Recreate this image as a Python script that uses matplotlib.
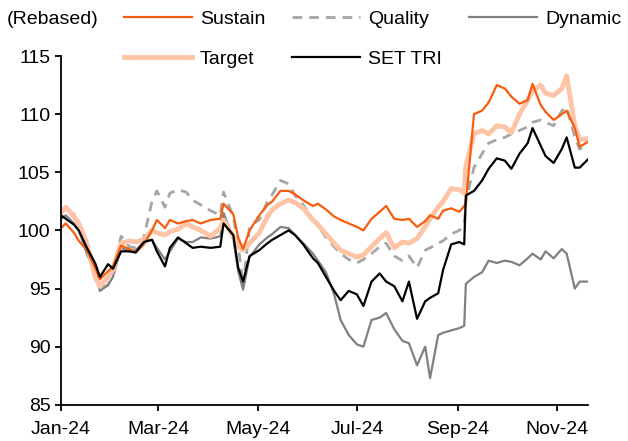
import matplotlib
matplotlib.use("Agg")
import matplotlib.pyplot as plt
import matplotlib.dates as mdates
import pandas as pd

plt.rcParams['font.family'] = ['Liberation Sans', 'DejaVu Sans']
plt.rcParams['font.size'] = 14

# dates of the sampled points
dates = pd.to_datetime([
    '2024-01-01', '2024-01-04', '2024-01-09', '2024-01-12', '2024-01-17', '2024-01-22',
    '2024-01-25', '2024-01-30', '2024-02-02', '2024-02-07', '2024-02-12', '2024-02-16',
    '2024-02-21', '2024-02-26', '2024-02-29', '2024-03-05', '2024-03-08', '2024-03-13',
    '2024-03-18', '2024-03-22', '2024-03-27', '2024-04-02', '2024-04-08', '2024-04-10',
    '2024-04-16', '2024-04-19', '2024-04-22', '2024-04-26', '2024-05-02', '2024-05-07',
    '2024-05-10', '2024-05-15', '2024-05-20', '2024-05-24', '2024-05-29', '2024-06-04',
    '2024-06-07', '2024-06-12', '2024-06-17', '2024-06-21', '2024-06-26', '2024-07-01',
    '2024-07-05', '2024-07-10', '2024-07-15', '2024-07-19', '2024-07-24', '2024-07-29',
    '2024-08-02', '2024-08-07', '2024-08-12', '2024-08-15', '2024-08-20', '2024-08-23',
    '2024-08-28', '2024-09-02', '2024-09-05', '2024-09-06', '2024-09-11', '2024-09-16',
    '2024-09-20', '2024-09-25', '2024-09-30', '2024-10-04', '2024-10-09', '2024-10-14',
    '2024-10-17', '2024-10-22', '2024-10-25', '2024-10-30', '2024-11-04', '2024-11-07',
    '2024-11-12', '2024-11-15', '2024-11-20',
])

sustain = [
    100.2, 100.6, 99.8, 99.1, 98.3, 96.8, 95.8, 96.5, 96.9, 98.7, 98.4, 98.1,
    98.8, 100.0, 100.9, 100.2, 100.9, 100.6, 100.8, 100.9, 100.6, 100.9, 101.0, 102.3,
    101.4, 99.4, 98.4, 100.0, 101.3, 102.2, 102.5, 103.4, 103.4, 103.1, 102.6, 102.1,
    102.3, 101.8, 101.2, 100.9, 100.6, 100.3, 100.0, 101.0, 101.6, 102.1, 101.0, 100.9,
    101.0, 100.3, 100.8, 101.3, 101.0, 101.7, 101.9, 101.6, 102.1, 102.3, 110.0, 110.3,
    111.0, 112.5, 112.2, 111.5, 110.9, 111.2, 112.6, 110.8, 110.2, 109.5, 110.0, 110.3,
    108.8, 107.2, 107.6,
]
quality = [
    101.5, 102.0, 101.4, 100.4, 98.5, 96.6, 95.0, 95.3, 96.5, 99.5, 98.6, 98.5,
    99.4, 102.5, 103.4, 102.0, 103.2, 103.5, 103.3, 102.6, 102.2, 101.7, 101.3, 103.3,
    101.2, 98.8, 95.2, 100.4, 100.9, 102.5, 103.1, 104.3, 104.0, 103.0, 102.2, 100.9,
    100.4, 99.4, 98.6, 98.0, 97.5, 97.2, 97.5, 98.0, 98.6, 98.9, 97.8, 97.4,
    97.8, 96.8, 98.3, 98.5, 98.9, 99.1, 99.7, 100.0, 100.5, 102.6, 105.4, 106.6,
    107.5, 107.8, 108.0, 108.3, 108.6, 108.9, 109.3, 109.5, 109.3, 109.0, 110.3, 110.6,
    108.0, 107.0, 107.4,
]
dynamic = [
    101.0, 101.3, 100.6, 100.0, 98.0, 96.4, 94.8, 95.3, 96.0, 98.5, 98.2, 98.3,
    99.0, 99.2, 98.5, 97.5, 98.2, 99.3, 99.0, 99.0, 99.4, 99.3, 99.5, 101.5,
    99.3, 96.5, 94.9, 97.7, 98.8, 99.4, 99.7, 100.3, 100.2, 99.6, 98.9, 98.0,
    97.4, 96.4, 94.5, 92.3, 91.0, 90.2, 90.0, 92.3, 92.5, 92.9, 91.5, 90.5,
    90.3, 88.4, 90.0, 87.3, 91.0, 91.2, 91.4, 91.6, 91.8, 95.4, 96.0, 96.4,
    97.4, 97.2, 97.4, 97.3, 97.0, 97.6, 98.0, 97.5, 98.2, 97.6, 98.4, 98.0,
    95.0, 95.6, 95.6,
]
target = [
    101.5, 102.0, 101.2, 100.6, 98.9, 96.0, 95.2, 96.0, 96.6, 98.9, 99.1, 99.0,
    99.2, 100.0, 99.8, 99.6, 99.9, 100.1, 100.6, 100.3, 100.0, 99.5, 100.2, 100.9,
    99.5, 98.6, 98.3, 98.9, 99.8, 101.2, 101.8, 102.3, 102.6, 102.4, 101.9, 100.9,
    100.5, 99.7, 98.9, 98.3, 98.0, 97.7, 97.9, 98.6, 99.3, 99.8, 98.5, 99.0,
    98.9, 99.3, 100.3, 101.0, 102.0, 102.5, 103.6, 103.5, 103.2, 105.5, 108.3, 108.6,
    108.3, 109.0, 108.9, 108.4, 110.0, 111.2, 112.0, 112.5, 111.8, 111.6, 112.2, 113.3,
    109.0, 107.8, 107.9,
]
set_tri = [
    101.3, 101.0, 100.5, 100.0, 98.5, 97.2, 96.0, 97.1, 96.7, 98.2, 98.2, 98.1,
    99.0, 99.2, 98.2, 96.9, 98.5, 99.4, 98.9, 98.5, 98.6, 98.5, 98.6, 100.6,
    99.6, 96.8, 95.6, 97.8, 98.3, 98.9, 99.2, 99.6, 100.0, 99.6, 98.8, 97.6,
    97.2, 96.0, 94.8, 94.0, 94.8, 94.5, 93.5, 95.6, 96.3, 95.6, 95.2, 93.9,
    95.6, 92.4, 93.9, 94.2, 94.6, 96.6, 98.8, 99.0, 98.8, 103.0, 103.4, 104.3,
    105.3, 106.2, 106.0, 105.3, 106.6, 107.5, 108.8, 107.3, 106.4, 105.8, 107.0, 108.0,
    105.4, 105.4, 106.1,
]

fig = plt.figure(figsize=(6.28, 4.41), dpi=100)
ax = fig.add_axes([0.097, 0.082, 0.839, 0.791])

l_q, = ax.plot(dates, quality, color='#A6A6A6', lw=2.0, ls=(0, (3.5, 2.5)), label='Quality')
l_d, = ax.plot(dates, dynamic, color='#808080', lw=1.6, label='Dynamic')
l_t, = ax.plot(dates, target, color='#FFC3A6', lw=3.5, label='Target')
l_s, = ax.plot(dates, sustain, color='#F85C0C', lw=1.6, label='Sustain')
l_b, = ax.plot(dates, set_tri, color='black', lw=1.6, label='SET TRI')

ax.set_ylim(85, 115)
ax.set_yticks([85, 90, 95, 100, 105, 110, 115])
ax.set_xlim(pd.Timestamp('2024-01-01'), pd.Timestamp('2024-11-20'))
ax.xaxis.set_major_locator(mdates.MonthLocator(bymonth=[1, 3, 5, 7, 9, 11]))
ax.xaxis.set_major_formatter(mdates.DateFormatter('%b-%y'))

for s in ['top', 'right']:
    ax.spines[s].set_visible(False)
for s in ['left', 'bottom']:
    ax.spines[s].set_linewidth(1.3)
ax.tick_params(axis='y', direction='out', length=4.5, width=1.3, labelsize=14, pad=3)
ax.tick_params(axis='x', direction='out', length=4.5, width=1.3, labelsize=14, pad=7)

fig.text(7 / 628, 1 - 20 / 441, '(Rebased)', fontsize=14, va='center', ha='left')
fig.legend(handles=[l_s, l_t, l_q, l_b, l_d], ncol=3, loc='upper left',
           bbox_to_anchor=(124 / 628, 1 - 10 / 441), frameon=False, fontsize=14,
           handlelength=3.5, handletextpad=0.4, columnspacing=1.4,
           labelspacing=1.15, borderaxespad=0, borderpad=0)

fig.savefig('out.png', dpi=100)
